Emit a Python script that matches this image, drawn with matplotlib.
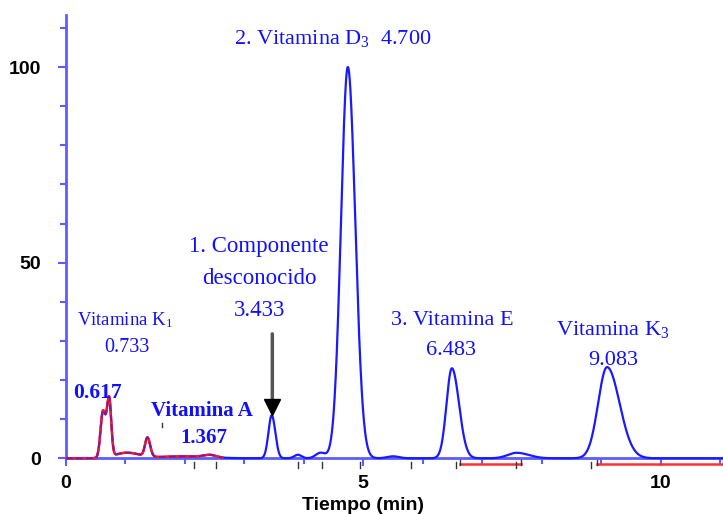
import numpy as np
import matplotlib
matplotlib.use("Agg")
import matplotlib.pyplot as plt

plt.rcParams['mathtext.fontset'] = 'custom'
plt.rcParams['mathtext.rm'] = 'Liberation Serif'
plt.rcParams['mathtext.it'] = 'Liberation Serif:italic'
plt.rcParams['mathtext.bf'] = 'Liberation Serif:bold'

# peaks: retention time (min), height, left / right width
peak_rt = [0.62, 0.725, 1.02, 1.37, 2.00, 2.42, 3.46, 3.90, 4.28, 4.74, 5.50, 6.49, 7.58, 9.10]
peak_h = [11.5, 15.0, 1.4, 4.8, 0.5, 0.6, 11.0, 0.9, 1.4, 100.0, 0.5, 23.0, 1.4, 23.3]
peak_wl = [0.04, 0.04, 0.20, 0.04, 0.40, 0.10, 0.055, 0.06, 0.08, 0.115, 0.10, 0.09, 0.15, 0.15]
peak_wr = [0.04, 0.035, 0.22, 0.045, 0.40, 0.10, 0.060, 0.06, 0.08, 0.125, 0.10, 0.12, 0.20, 0.21]

red_end = 2.63  # part of the trace drawn in red
baseline_segments = [(6.62, 7.66), (8.93, 11.05)]
event_marks = [2.16, 2.53, 3.90, 4.30, 4.95, 5.80, 6.56, 7.57, 8.83]

labels = [
    ("Vitamina K$_1$", 1.00, 35.3, 13.5, 'normal'),
    ("0.733", 1.03, 28.3, 14.5, 'normal'),
    ("0.617", 0.53, 16.8, 15.5, 'bold'),
    ("Vitamina A", 2.28, 12.0, 15, 'bold'),
    ("1.367", 2.32, 5.1, 15, 'bold'),
    ("1. Componente", 3.24, 54.0, 16.5, 'normal'),
    ("desconocido", 3.25, 46.0, 16.5, 'normal'),
    ("3.433", 3.26, 37.8, 16.5, 'normal'),
    ("2. Vitamina D$_3$  4.700", 4.48, 107.3, 16, 'normal'),
    ("3. Vitamina E", 6.50, 35.3, 16, 'normal'),
    ("6.483", 6.48, 27.6, 16, 'normal'),
    ("Vitamina K$_3$", 9.20, 32.8, 16, 'normal'),
    ("9.083", 9.20, 25.0, 16, 'normal'),
]

t = np.linspace(0, 11.05, 3000)
signal = np.zeros_like(t)
for rt, h, wl, wr in zip(peak_rt, peak_h, peak_wl, peak_wr):
    w = np.where(t < rt, wl, wr)
    signal += h * np.exp(-0.5 * ((t - rt) / w) ** 2)

axis_col = '#5c5cff'
fig = plt.figure(figsize=(7.23, 5.14), dpi=100)
ax = fig.add_axes([66 / 723, (514 - 470) / 514, 1 - 66 / 723, (470 - 15) / 514])
ax.set_xlim(0, 11.05)
ax.set_ylim(-3, 113.3)

ax.plot(t, signal, color='#1a1aff', lw=1.6, zorder=3)
m = t <= red_end
ax.plot(t[m], signal[m], color='#ff1a1a', lw=1.8, zorder=4)
ax.plot(t[m], signal[m], color='#1a1aff', lw=1.2, ls=(0, (4, 2)), zorder=4,
        alpha=0.6)

for a, b in baseline_segments:
    ax.plot([a, b], [-1.4, -1.4], color='#ff3030', lw=1.8, zorder=2)
    ax.plot([a, a], [-0.3, -1.6], color='#333333', lw=1.0, zorder=2)
    ax.plot([b, b], [-0.3, -1.6], color='#333333', lw=1.0, zorder=2)
for x in event_marks:
    ax.plot([x, x], [-1.0, -2.6], color='#333333', lw=1.0, zorder=2)
ax.plot([1.62, 1.62], [8.0, 9.0], color='#333333', lw=1.0)

for s in ['top', 'right']:
    ax.spines[s].set_visible(False)
ax.spines['bottom'].set_position(('data', 0))
ax.spines['left'].set_bounds(0, 113.3)
for s in ['left', 'bottom']:
    ax.spines[s].set_color(axis_col)
    ax.spines[s].set_linewidth(2.0)

ax.set_xticks([0, 5, 10])
ax.set_xticks(range(0, 12), minor=True)
ax.set_yticks([0, 50, 100])
ax.set_yticks(range(0, 111, 10), minor=True)
ax.tick_params(which='both', color=axis_col, width=1.5)
ax.tick_params(which='major', length=6, pad=6)
ax.tick_params(which='minor', length=4)
for lab in ax.get_xticklabels() + ax.get_yticklabels():
    lab.set_family('Liberation Sans')
    lab.set_fontweight('bold')
    lab.set_fontsize(14)
ax.tick_params(axis='y', pad=12)

ax.set_xlabel("Tiempo (min)", family='Liberation Sans', fontweight='bold',
              fontsize=14)
ax.xaxis.set_label_coords(5.0 / 11.05, -0.06)

for txt, x, y, fs, fw in labels:
    ax.text(x, y, txt, family='Liberation Serif', fontsize=fs, fontweight=fw,
            color='#1010ff', ha='center', va='center', zorder=5)

ax.annotate('', xy=(3.47, 11.5), xytext=(3.47, 32.5),
            arrowprops=dict(arrowstyle='-', color='#555555', lw=2.5))
ax.plot([3.47], [13.2], marker='v', color='black', markersize=11, zorder=6)

fig.savefig('out.png', dpi=100)
